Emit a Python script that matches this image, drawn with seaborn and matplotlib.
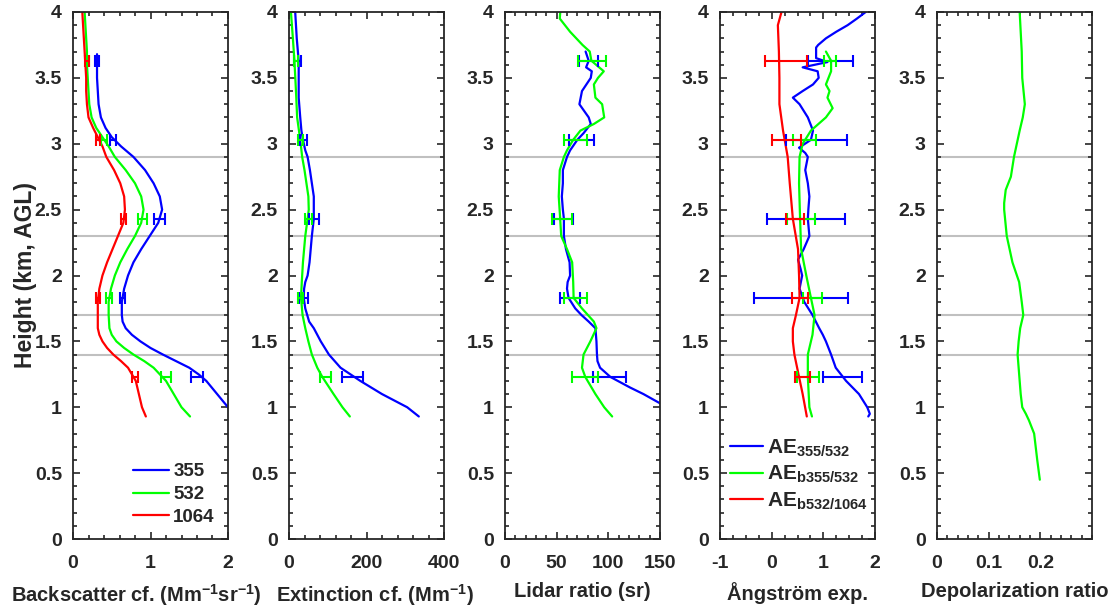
import numpy as np
import pandas as pd
import matplotlib
matplotlib.use("Agg")
import matplotlib.pyplot as plt
from matplotlib.ticker import MultipleLocator, FuncFormatter
import seaborn as sns

# ---------------- data ----------------
layer_bounds = [1.4, 1.7, 2.3, 2.9]
eb_heights = [3.63, 3.03, 2.43, 1.83, 1.23]

# Backscatter coefficient (Mm-1 sr-1)
h_bsc355 = [3.68, 3.6, 3.5, 3.4, 3.3, 3.2, 3.12, 3.05, 2.98, 2.9, 2.8, 2.7, 2.6, 2.5, 2.4, 2.3, 2.2, 2.1, 2.0,
            1.9, 1.8, 1.7, 1.65, 1.6, 1.55, 1.5, 1.45, 1.4, 1.35, 1.3, 1.25, 1.2, 1.1, 1.0, 0.93]
bsc355 = [0.31, 0.31, 0.31, 0.32, 0.33, 0.36, 0.42, 0.50, 0.62, 0.78, 0.93, 1.04, 1.12, 1.15, 1.10, 0.99, 0.88,
          0.78, 0.71, 0.66, 0.63, 0.63, 0.64, 0.68, 0.76, 0.87, 1.00, 1.16, 1.33, 1.50, 1.62, 1.72, 1.86, 2.0, 2.1]
h_bsc532 = [4.0, 3.9, 3.8, 3.7, 3.6, 3.5, 3.4, 3.3, 3.2, 3.12, 3.05, 2.98, 2.9, 2.8, 2.7, 2.6, 2.5, 2.4, 2.3,
            2.2, 2.1, 2.0, 1.9, 1.8, 1.7, 1.6, 1.55, 1.5, 1.45, 1.4, 1.35, 1.3, 1.2, 1.1, 1.0, 0.93]
bsc532 = [0.15, 0.16, 0.17, 0.18, 0.18, 0.19, 0.20, 0.21, 0.24, 0.30, 0.38, 0.46, 0.54, 0.68, 0.80, 0.88, 0.91,
          0.88, 0.80, 0.70, 0.61, 0.54, 0.49, 0.46, 0.46, 0.47, 0.50, 0.56, 0.66, 0.78, 0.92, 1.04, 1.20, 1.30,
          1.40, 1.51]
h_bsc1064 = h_bsc532
bsc1064 = [0.12, 0.13, 0.14, 0.15, 0.16, 0.17, 0.17, 0.18, 0.20, 0.26, 0.32, 0.38, 0.43, 0.53, 0.61, 0.66, 0.67,
           0.65, 0.58, 0.51, 0.44, 0.38, 0.34, 0.32, 0.32, 0.32, 0.34, 0.38, 0.44, 0.52, 0.62, 0.71, 0.81, 0.85,
           0.89, 0.94]
bsc355_eb = [0.315, 0.52, 1.12, 0.635, 1.60]
bsc355_err = [0.025, 0.04, 0.07, 0.035, 0.075]
bsc532_eb = [0.19, 0.40, 0.895, 0.465, 1.205]
bsc532_err = [0.02, 0.035, 0.055, 0.035, 0.065]
bsc1064_eb = [0.18, 0.325, 0.655, 0.325, 0.80]
bsc1064_err = [0.025, 0.025, 0.035, 0.025, 0.04]

# Extinction coefficient (Mm-1)
h_ext355 = [4.0, 3.8, 3.63, 3.5, 3.35, 3.2, 3.1, 3.03, 2.95, 2.9, 2.8, 2.7, 2.6, 2.5, 2.43, 2.3, 2.2, 2.1, 2.0,
            1.95, 1.9, 1.83, 1.75, 1.65, 1.6, 1.5, 1.4, 1.3, 1.2, 1.1, 1.0, 0.93]
ext355 = [16, 20, 25, 25, 25, 29, 32, 36, 42, 48, 54, 59, 64, 64, 64, 59, 56, 53, 48, 42, 39, 38, 42, 52, 64, 82,
          103, 133, 184, 240, 305, 335]
h_ext532 = [4.0, 3.8, 3.63, 3.4, 3.2, 3.03, 2.9, 2.8, 2.7, 2.6, 2.5, 2.43, 2.3, 2.2, 2.1, 1.95, 1.83, 1.7, 1.6,
            1.5, 1.4, 1.3, 1.23, 1.1, 1.0, 0.93]
ext532 = [5, 10, 14, 18, 21, 29, 34, 40, 45, 50, 51, 48, 42, 39, 36, 33, 31, 35, 42, 50, 59, 73, 86, 115, 138, 157]
ext355_eb = [23, 38, 64, 37, 164]
ext355_err = [9, 9, 13, 12, 27]
ext532_eb = [17, 30, 50, 30, 94]
ext532_err = [5, 7, 9, 7, 15]

# Lidar ratio (sr)
h_lr355 = [3.70, 3.63, 3.58, 3.55, 3.5, 3.4, 3.3, 3.2, 3.15, 3.08, 3.03, 2.95, 2.9, 2.8, 2.7, 2.6, 2.5, 2.43,
           2.3, 2.2, 2.1, 2.0, 1.95, 1.9, 1.83, 1.75, 1.7, 1.65, 1.6, 1.5, 1.4, 1.35, 1.3, 1.23, 1.15, 1.1, 1.03,
           0.93]
lr355 = [78, 81, 78.5, 84, 83, 74.5, 72, 81, 83, 76, 70, 63, 60, 56, 56, 55, 56, 57, 57, 59, 62.5, 63, 60.6, 60,
         61.5, 68, 74, 81, 87.5, 88.5, 89, 89.5, 92, 102, 121, 134, 150, 175]
h_lr532 = [4.0, 3.95, 3.85, 3.75, 3.7, 3.63, 3.55, 3.5, 3.45, 3.35, 3.3, 3.2, 3.15, 3.1, 3.03, 2.95, 2.9, 2.8,
           2.6, 2.43, 2.3, 2.2, 2.1, 1.95, 1.83, 1.75, 1.65, 1.6, 1.5, 1.4, 1.3, 1.23, 1.1, 1.0, 0.93]
lr532 = [53.5, 53, 63, 75, 82, 83.6, 95.6, 90, 86, 87.5, 94, 96, 86, 73, 66, 60, 57, 53, 52, 53.4, 54.4, 60, 65,
         66, 66.4, 74.5, 86, 88.5, 82.6, 76, 74.5, 77.7, 87.5, 96, 103.7]
lr355_eb = [81, 74, 56.5, 63, 101]
lr355_err = [9, 12, 9.5, 10, 16]
lr532_eb = [84.5, 68, 55, 68, 77.5]
lr532_err = [13.5, 11, 10, 11, 12.5]

# Angstrom exponents
h_ae355 = [4.0, 3.95, 3.9, 3.85, 3.8, 3.75, 3.73, 3.65, 3.62, 3.58, 3.55, 3.5, 3.45, 3.4, 3.35, 3.3, 3.2, 3.1,
           3.03, 2.97, 2.93, 2.9, 2.8, 2.7, 2.6, 2.5, 2.43, 2.3, 2.2, 2.12, 2.05, 2.0, 1.9, 1.8, 1.7, 1.6, 1.55,
           1.5, 1.4, 1.3, 1.2, 1.1, 1.0, 0.95, 0.93]
ae355 = [1.82, 1.65, 1.47, 1.25, 1.05, 0.9, 0.86, 0.86, 1.08, 0.6, 0.89, 0.91, 0.8, 0.6, 0.41, 0.54, 0.70, 0.80,
         0.76, 0.53, 0.65, 0.70, 0.65, 0.70, 0.73, 0.71, 0.70, 0.73, 0.62, 0.51, 0.56, 0.59, 0.54, 0.63, 0.79, 0.92,
         0.99, 1.05, 1.15, 1.24, 1.44, 1.69, 1.85, 1.90, 1.87]
h_aeb355 = [3.7, 3.63, 3.55, 3.5, 3.45, 3.4, 3.35, 3.27, 3.2, 3.1, 3.0, 2.9, 2.7, 2.43, 2.2, 2.0, 1.83, 1.7, 1.55,
            1.45, 1.4, 1.23, 1.0, 0.93]
aeb355 = [1.05, 1.15, 1.15, 1.10, 1.05, 1.12, 1.08, 1.18, 1.05, 0.76, 0.60, 0.54, 0.53, 0.55, 0.57, 0.67, 0.76,
          0.83, 0.79, 0.73, 0.70, 0.70, 0.73, 0.78]
h_aeb532 = [4.0, 3.9, 3.7, 3.5, 3.3, 3.1, 2.9, 2.7, 2.43, 2.2, 2.0, 1.83, 1.7, 1.6, 1.5, 1.4, 1.23, 1.1, 0.93]
aeb532 = [0.19, 0.12, 0.14, 0.15, 0.15, 0.22, 0.31, 0.35, 0.41, 0.51, 0.53, 0.54, 0.47, 0.41, 0.41, 0.44, 0.53,
          0.60, 0.68]
ae355_eb = [1.14, 0.865, 0.665, 0.56, 1.37]
ae355_err = [0.44, 0.585, 0.755, 0.91, 0.37]
aeb355_eb = [1.135, 0.64, 0.56, 0.785, 0.70]
aeb355_err = [0.115, 0.22, 0.27, 0.185, 0.21]
aeb532_eb = [0.275, 0.29, 0.445, 0.55, 0.60]
aeb532_err = [0.405, 0.28, 0.175, 0.15, 0.14]

# Depolarization ratio
h_dep = [4.0, 3.7, 3.5, 3.3, 3.2, 3.1, 2.9, 2.75, 2.65, 2.55, 2.5, 2.3, 2.1, 1.95, 1.8, 1.7, 1.6, 1.5, 1.4, 1.3,
         1.1, 1.0, 0.95, 0.9, 0.8, 0.6, 0.45]
dep = [0.160, 0.164, 0.165, 0.170, 0.166, 0.160, 0.149, 0.143, 0.133, 0.130, 0.130, 0.135, 0.146, 0.159, 0.164,
       0.167, 0.161, 0.158, 0.156, 0.158, 0.162, 0.165, 0.172, 0.178, 0.188, 0.194, 0.199]

# ---------------- style ----------------
sns.set_theme(style="ticks")
TXT = "#262626"
plt.rcParams.update({
    "font.family": ["Liberation Sans", "DejaVu Sans"],
    "font.weight": "bold",
    "axes.labelweight": "bold",
    "mathtext.fontset": "custom",
    "mathtext.rm": "Liberation Sans:bold",
    "mathtext.bf": "Liberation Sans:bold",
    "mathtext.it": "Liberation Sans:bold",
    "mathtext.default": "bf",
    "text.color": TXT,
    "axes.labelcolor": TXT,
    "xtick.color": TXT,
    "ytick.color": TXT,
    "axes.edgecolor": TXT,
})

BLUE, GREEN, RED = "#0000ff", "#00ff00", "#ff0000"
fmt = FuncFormatter(lambda v, p: f"{v:g}")
TICK_FS = 14
LAB_FS = 14.5

fig = plt.figure(figsize=(11.17, 6.11), dpi=100)
W, H = 1117, 611
lefts = [73, 289, 505, 720, 937]
axes = [fig.add_axes([l / W, (H - 539) / H, 155 / W, 527 / H]) for l in lefts]


def prof(ax, x, y, color, label=None):
    sns.lineplot(x=x, y=y, sort=False, estimator=None, color=color, lw=1.6, ax=ax,
                 label=label, legend=False)


def ebar(ax, centers, errs, color):
    ax.errorbar(centers, eb_heights, xerr=errs, fmt="none", ecolor=color, elinewidth=1.5,
                capsize=4.5, capthick=1.5)


# Panel 1: backscatter
ax = axes[0]
prof(ax, bsc355, h_bsc355, BLUE, "355")
prof(ax, bsc532, h_bsc532, GREEN, "532")
prof(ax, bsc1064, h_bsc1064, RED, "1064")
ebar(ax, bsc355_eb, bsc355_err, BLUE)
ebar(ax, bsc532_eb, bsc532_err, GREEN)
ebar(ax, bsc1064_eb, bsc1064_err, RED)
ax.set_xlim(0, 2)
ax.xaxis.set_major_locator(MultipleLocator(1))
ax.xaxis.set_minor_locator(MultipleLocator(0.2))
ax.set_xlabel("Backscatter cf. (Mm$^{-1}$sr$^{-1}$)")
ax.set_ylabel("Height (km, AGL)", fontsize=16.5)
leg = ax.legend(loc="lower right", frameon=False, fontsize=13.5, handlelength=1.9, handletextpad=0.25,
                labelspacing=0.3, borderaxespad=0.3)

# Panel 2: extinction
ax = axes[1]
prof(ax, ext355, h_ext355, BLUE)
prof(ax, ext532, h_ext532, GREEN)
ebar(ax, ext355_eb, ext355_err, BLUE)
ebar(ax, ext532_eb, ext532_err, GREEN)
ax.set_xlim(0, 400)
ax.xaxis.set_major_locator(MultipleLocator(200))
ax.xaxis.set_minor_locator(MultipleLocator(40))
ax.set_xlabel("Extinction cf. (Mm$^{-1}$)")

# Panel 3: lidar ratio
ax = axes[2]
prof(ax, lr355, h_lr355, BLUE)
prof(ax, lr532, h_lr532, GREEN)
ebar(ax, lr355_eb, lr355_err, BLUE)
ebar(ax, lr532_eb, lr532_err, GREEN)
ax.set_xlim(0, 150)
ax.xaxis.set_major_locator(MultipleLocator(50))
ax.xaxis.set_minor_locator(MultipleLocator(10))
ax.set_xlabel("Lidar ratio (sr)")

# Panel 4: Angstrom
ax = axes[3]
prof(ax, ae355, h_ae355, BLUE, r"AE$_{355/532}$")
prof(ax, aeb355, h_aeb355, GREEN, r"AE$_{b355/532}$")
prof(ax, aeb532, h_aeb532, RED, r"AE$_{b532/1064}$")
ebar(ax, ae355_eb, ae355_err, BLUE)
ebar(ax, aeb355_eb, aeb355_err, GREEN)
ebar(ax, aeb532_eb, aeb532_err, RED)
ax.set_xlim(-1, 2)
ax.xaxis.set_major_locator(MultipleLocator(1))
ax.xaxis.set_minor_locator(MultipleLocator(0.25))
ax.set_xlabel("Ångström exp.")
ax.legend(loc="lower left", frameon=False, fontsize=15, handlelength=1.6, handletextpad=0.15,
          labelspacing=0.24, borderaxespad=0.0, borderpad=0.3, bbox_to_anchor=(0.025, 0.04))

# Panel 5: depolarization
ax = axes[4]
prof(ax, dep, h_dep, GREEN)
ax.set_xlim(0, 0.3)
ax.set_xticks([0, 0.1, 0.2])
ax.xaxis.set_minor_locator(MultipleLocator(0.02))
ax.set_xlabel("Depolarization ratio")

for i, ax in enumerate(axes):
    for hb in layer_bounds:
        ax.axhline(hb, color="#c0c0c0", lw=1.5, zorder=0.5)
    ax.set_ylim(0, 4)
    ax.yaxis.set_major_locator(MultipleLocator(0.5))
    ax.yaxis.set_minor_locator(MultipleLocator(0.1))
    ax.xaxis.set_major_formatter(fmt)
    ax.yaxis.set_major_formatter(fmt)
    ax.tick_params(which="both", direction="in", top=True, right=True, labelsize=TICK_FS, width=1.2)
    ax.tick_params(which="major", length=5)
    ax.tick_params(axis="y", which="major", pad=8)
    ax.tick_params(axis="x", which="major", pad=11.5)
    ax.tick_params(which="minor", length=3)
    for s in ax.spines.values():
        s.set_linewidth(1.3)
        s.set_visible(True)
    ax.xaxis.label.set_size(LAB_FS)
    if i > 0:
        ax.set_ylabel("")

# label placement as in the reference
LY = -0.082
axes[0].yaxis.set_label_coords(-0.235, 0.5)
axes[0].xaxis.set_label_coords(0.41, LY)
axes[1].xaxis.set_label_coords(0.555, LY)
for ax in axes[2:]:
    ax.xaxis.set_label_coords(0.5, LY)

fig.savefig("out.png", dpi=100)
